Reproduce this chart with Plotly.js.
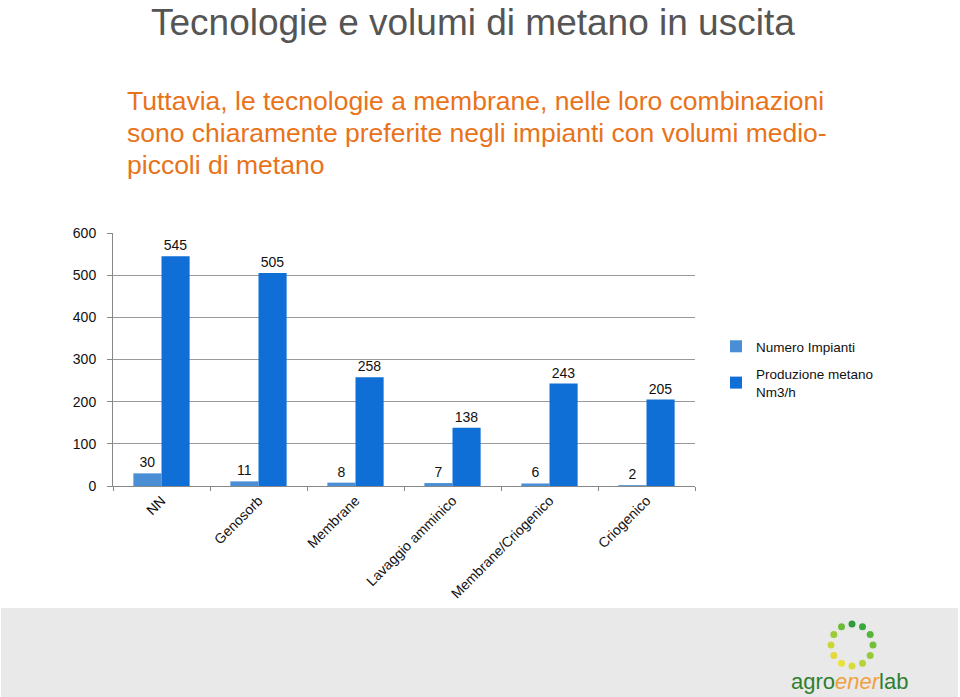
<!DOCTYPE html>
<html>
<head>
<meta charset="utf-8">
<script src="https://cdn.plot.ly/plotly-3.0.1.min.js"></script>
<style>
  html, body { margin: 0; padding: 0; background: #fff; }
  #chart { width: 960px; height: 697px; }
</style>
</head>
<body>
<div id="chart"></div>
<script>
// categories and series
let categories = ['NN', 'Genosorb', 'Membrane', 'Lavaggio amminico', 'Membrane/Criogenico', 'Criogenico'];
let numeroImpianti = [30, 11, 8, 7, 6, 2];
let produzioneMetano = [545, 505, 258, 138, 243, 205];
let yTicks = [0, 100, 200, 300, 400, 500, 600];
let subtitleLines = [
    'Tuttavia, le tecnologie a membrane, nelle loro combinazioni',
    'sono chiaramente preferite negli impianti con volumi medio-',
    'piccoli di metano',
];

// plot area in pixels
let W = 960, H = 697;
let L = 113, R = 695, T = 233, B = 486;
function px(x) { return (x - L) / (R - L); }
function py(y) { return (B - y) / (B - T); }

let fontFam = 'Liberation Sans, Arial, sans-serif';

let data = [{
    type: 'bar',
    name: 'Numero Impianti',
    legendgroup: 'a',
    x: categories,
    y: numeroImpianti,
    text: numeroImpianti.map(String),
    textposition: 'outside',
    cliponaxis: false,
    textfont: { family: fontFam, size: 14, color: '#111' },
    marker: { color: '#4a8fd6', line: { width: 0 } },
}, {
    type: 'bar',
    name: 'Produzione metano<br>Nm3/h',
    legendgroup: 'b',
    x: categories,
    y: produzioneMetano,
    text: produzioneMetano.map(String),
    textposition: 'outside',
    cliponaxis: false,
    textfont: { family: fontFam, size: 14, color: '#111' },
    marker: { color: '#0f6fd6', line: { width: 0 } },
}];

// logo ring (decoration)
let ringColors = ['#2e9a3a', '#3aa83a', '#55b53a', '#74bf3a', '#98c93a', '#b8d23a', '#d6dc3a', '#e8e23a', '#e4d93a', '#c9d63a', '#9ccb3a', '#6cbc3a'];
let shapes = [{
    type: 'rect', xref: 'paper', yref: 'paper', layer: 'below',
    x0: px(1), x1: px(958), y0: py(608), y1: py(697),
    fillcolor: '#e9e9e9', line: { width: 0 },
}];
for (let i = 0; i < ringColors.length; ++i) {
    let a = Math.PI / 2 - i * 2 * Math.PI / ringColors.length;
    let cx = 852 + 21 * Math.cos(a), cy = 645 - 21 * Math.sin(a);
    shapes.push({
        type: 'circle', xref: 'paper', yref: 'paper',
        x0: px(cx - 3.5), x1: px(cx + 3.5), y0: py(cy - 3.5), y1: py(cy + 3.5),
        fillcolor: ringColors[i], line: { width: 0 },
    });
}

let annotations = subtitleLines.map(function (s, i) {
    return {
        xref: 'paper', yref: 'paper',
        x: px(125), y: py(101 + i * 32), xanchor: 'left', yanchor: 'middle',
        align: 'left', showarrow: false,
        text: s,
        font: { family: fontFam, size: 26.5, color: '#e8731a' },
    };
});
annotations.push({
    xref: 'paper', yref: 'paper',
    x: px(849), y: py(681), xanchor: 'center', yanchor: 'middle',
    showarrow: false,
    text: '<span style="color:#2f7f2f">agro</span><i><span style="color:#f0a040">ener</span></i><span style="color:#2f7f2f">lab</span>',
    font: { family: fontFam, size: 22 },
});

let layout = {
    width: W,
    height: H,
    margin: { l: L, r: W - R, t: T, b: H - B, pad: 0 },
    paper_bgcolor: '#ffffff',
    plot_bgcolor: '#ffffff',
    font: { family: fontFam, size: 14, color: '#111' },
    title: {
        text: 'Tecnologie e volumi di metano in uscita',
        font: { family: fontFam, size: 37, color: '#555555' },
        xref: 'container', yref: 'container',
        x: 151 / W, xanchor: 'left',
        y: 1 - 22 / H, yanchor: 'middle',
    },
    barmode: 'group',
    bargap: 0.42,
    bargroupgap: 0,
    showlegend: true,
    legend: {
        x: px(716), y: py(331), xanchor: 'left', yanchor: 'top',
        font: { family: fontFam, size: 13.5, color: '#111' },
        traceorder: 'grouped',
        tracegroupgap: 7,
        itemwidth: 30,
        bgcolor: 'rgba(0,0,0,0)',
    },
    xaxis: {
        type: 'category',
        tickangle: -45,
        ticks: 'outside',
        tickson: 'boundaries',
        ticklen: 4,
        tickcolor: '#888',
        showline: true,
        linecolor: '#888',
        linewidth: 1,
        showgrid: false,
        tickfont: { family: fontFam, size: 14, color: '#111' },
        fixedrange: true,
    },
    yaxis: {
        range: [0, 600],
        tickvals: yTicks,
        ticktext: yTicks.map(String),
        ticks: 'outside',
        ticklen: 5,
        tickcolor: '#888',
        showline: true,
        linecolor: '#888',
        showgrid: true,
        gridcolor: '#9a9a9a',
        gridwidth: 1,
        zeroline: false,
        tickfont: { family: fontFam, size: 14, color: '#111' },
        ticklabelstandoff: 8,
        fixedrange: true,
    },
    shapes: shapes,
    annotations: annotations,
};

Plotly.newPlot('chart', data, layout, { staticPlot: true });
</script>
</body>
</html>
